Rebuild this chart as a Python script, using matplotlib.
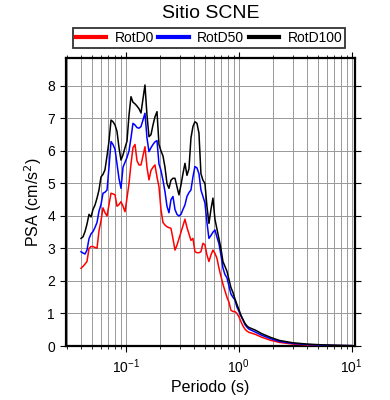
import matplotlib

matplotlib.use("Agg")

import matplotlib.pyplot as plt
from matplotlib.ticker import LogLocator, NullFormatter, MultipleLocator

plt.rcParams["font.family"] = ["Liberation Sans", "DejaVu Sans"]

title = "Sitio SCNE"
series_names = ["RotD0", "RotD50", "RotD100"]
series_colors = ["#ff0000", "#0000ff", "#000000"]

period = [
    0.0402, 0.0419, 0.0436, 0.0454, 0.0473, 0.0493, 0.0513, 0.0535, 0.0557, 0.0580,
    0.0604, 0.0629, 0.0655, 0.0683, 0.0711, 0.0741, 0.0771, 0.0804, 0.0837, 0.0872,
    0.0908, 0.0946, 0.0985, 0.1026, 0.1069, 0.1113, 0.1159, 0.1208, 0.1258, 0.1310,
    0.1365, 0.1421, 0.1480, 0.1542, 0.1606, 0.1673, 0.1743, 0.1815, 0.1891, 0.1969,
    0.2051, 0.2136, 0.2225, 0.2318, 0.2414, 0.2514, 0.2619, 0.2728, 0.2841, 0.2959,
    0.3082, 0.3210, 0.3344, 0.3483, 0.3628, 0.3778, 0.3935, 0.4099, 0.4270, 0.4447,
    0.4632, 0.4825, 0.5025, 0.5234, 0.5452, 0.5679, 0.5915, 0.6161, 0.6417, 0.6684,
    0.6962, 0.7251, 0.7553, 0.7867, 0.8194, 0.8535, 0.8890, 0.9259, 0.9644, 1.0045,
    1.0463, 1.0898, 1.1351, 1.1823, 1.2315,
    1.4, 1.6, 1.9, 2.3, 3.0, 4.0, 5.5, 7.5, 10.0,
]

rotd0 = [
    2.39, 2.45, 2.52, 2.60, 3.00, 3.06, 3.06, 3.03, 3.01, 3.55,
    3.85, 4.25, 4.10, 4.00, 4.35, 4.70, 4.68, 4.65, 4.30, 4.35,
    4.44, 4.30, 4.13, 4.55, 5.00, 5.60, 6.10, 6.20, 5.70, 5.57,
    5.57, 5.85, 6.13, 5.50, 5.11, 5.40, 5.50, 5.57, 5.20, 4.90,
    4.20, 3.80, 3.72, 3.67, 3.64, 3.62, 3.30, 2.95, 3.10, 3.30,
    3.50, 3.70, 3.90, 3.65, 3.45, 3.25, 3.31, 2.90, 2.87, 2.87,
    2.90, 3.16, 3.11, 2.80, 2.60, 2.80, 2.95, 2.85, 2.70, 2.40,
    2.15, 1.90, 1.70, 1.50, 1.35, 1.10, 1.06, 1.06, 1.00, 0.90,
    0.75, 0.62, 0.52, 0.46, 0.42,
    0.36, 0.27, 0.18, 0.11, 0.06, 0.035, 0.02, 0.012, 0.008,
]

rotd50 = [
    2.90, 2.86, 2.83, 2.95, 3.30, 3.45, 3.52, 3.65, 3.80, 4.15,
    4.35, 4.70, 4.73, 4.80, 5.50, 6.29, 6.20, 6.05, 5.60, 5.15,
    4.85, 5.50, 5.65, 5.80, 6.00, 6.40, 6.85, 6.80, 6.72, 6.70,
    6.75, 6.95, 7.16, 6.40, 5.98, 6.10, 6.20, 6.28, 6.32, 5.60,
    5.40, 5.10, 4.75, 4.30, 4.10, 4.50, 4.60, 4.20, 4.05, 4.00,
    4.05, 4.20, 4.34, 4.60, 4.72, 4.80, 5.20, 5.52, 5.48, 5.30,
    4.80, 4.60, 4.40, 3.80, 3.31, 3.40, 3.50, 3.57, 3.35, 3.15,
    2.80, 2.40, 2.20, 2.10, 1.85, 1.60, 1.50, 1.42, 1.20, 1.07,
    0.92, 0.80, 0.66, 0.58, 0.52,
    0.43, 0.33, 0.23, 0.14, 0.08, 0.045, 0.025, 0.015, 0.01,
]

rotd100 = [
    3.31, 3.36, 3.52, 3.75, 4.05, 3.97, 4.20, 4.34, 4.55, 4.80,
    5.20, 5.28, 5.42, 5.85, 6.30, 6.95, 6.90, 6.80, 6.60, 6.10,
    5.72, 5.88, 6.10, 6.30, 7.10, 7.67, 7.50, 7.45, 7.38, 7.30,
    7.17, 7.60, 8.03, 7.10, 6.44, 6.50, 6.80, 7.05, 7.21, 6.20,
    6.00, 5.85, 5.50, 5.00, 4.85, 5.10, 5.16, 5.16, 4.90, 4.65,
    4.95, 5.30, 5.62, 5.25, 5.45, 6.40, 6.75, 6.90, 6.85, 6.55,
    5.30, 5.10, 5.00, 4.30, 3.77, 4.20, 4.55, 3.90, 3.60, 3.30,
    3.00, 2.60, 2.45, 2.30, 2.05, 1.80, 1.65, 1.45, 1.28, 1.12,
    0.95, 0.82, 0.70, 0.62, 0.57,
    0.49, 0.38, 0.27, 0.17, 0.10, 0.06, 0.035, 0.02, 0.012,
]

fig = plt.figure(figsize=(3.9, 4.0), dpi=100)
ax = fig.add_axes([66 / 390, 1 - 346 / 400, 289 / 390, 288 / 400])

for values, name, color in zip([rotd0, rotd50, rotd100], series_names, series_colors):
    ax.plot(period, values, color=color, lw=1.1, label=name, zorder=3)

ax.set_xscale("log")
ax.set_xlim(0.0296, 10.7)
ax.set_ylim(0, 8.86)

ax.xaxis.set_major_locator(LogLocator(base=10, numticks=10))
ax.xaxis.set_minor_locator(LogLocator(base=10, subs=range(2, 10), numticks=20))
ax.xaxis.set_minor_formatter(NullFormatter())
ax.yaxis.set_major_locator(MultipleLocator(1))

ax.grid(True, which="both", axis="x", color="#999999", lw=0.7)
ax.grid(True, which="major", axis="y", color="#999999", lw=0.7)
ax.set_axisbelow(True)

for sp in ax.spines.values():
    sp.set_linewidth(1.6)
ax.tick_params(which="major", direction="out", length=4, width=0.8, labelsize=10,
               top=True, right=True, labeltop=False, labelright=False, pad=4)
ax.tick_params(which="minor", direction="out", length=2.5, width=0.6,
               top=True, right=True)

ax.set_xlabel("Periodo (s)", fontsize=11.5, labelpad=3)
ax.set_ylabel("PSA (cm/s$^2$)", fontsize=11.5, labelpad=2)

fig.text(211 / 390, 1 - 14 / 400, title, ha="center", va="center", fontsize=14)

leg = fig.legend(loc="lower left", bbox_to_anchor=(73 / 390, 1 - 48 / 400, 272 / 390, 22 / 400),
                 mode="expand", ncol=3, fontsize=10, frameon=True, fancybox=False,
                 borderpad=0.2, borderaxespad=0, handlelength=2.2, handletextpad=0.6)
leg.get_frame().set_edgecolor("black")
leg.get_frame().set_linewidth(1.3)
for line in leg.get_lines():
    line.set_linewidth(3)

fig.savefig("out.png", dpi=100)
